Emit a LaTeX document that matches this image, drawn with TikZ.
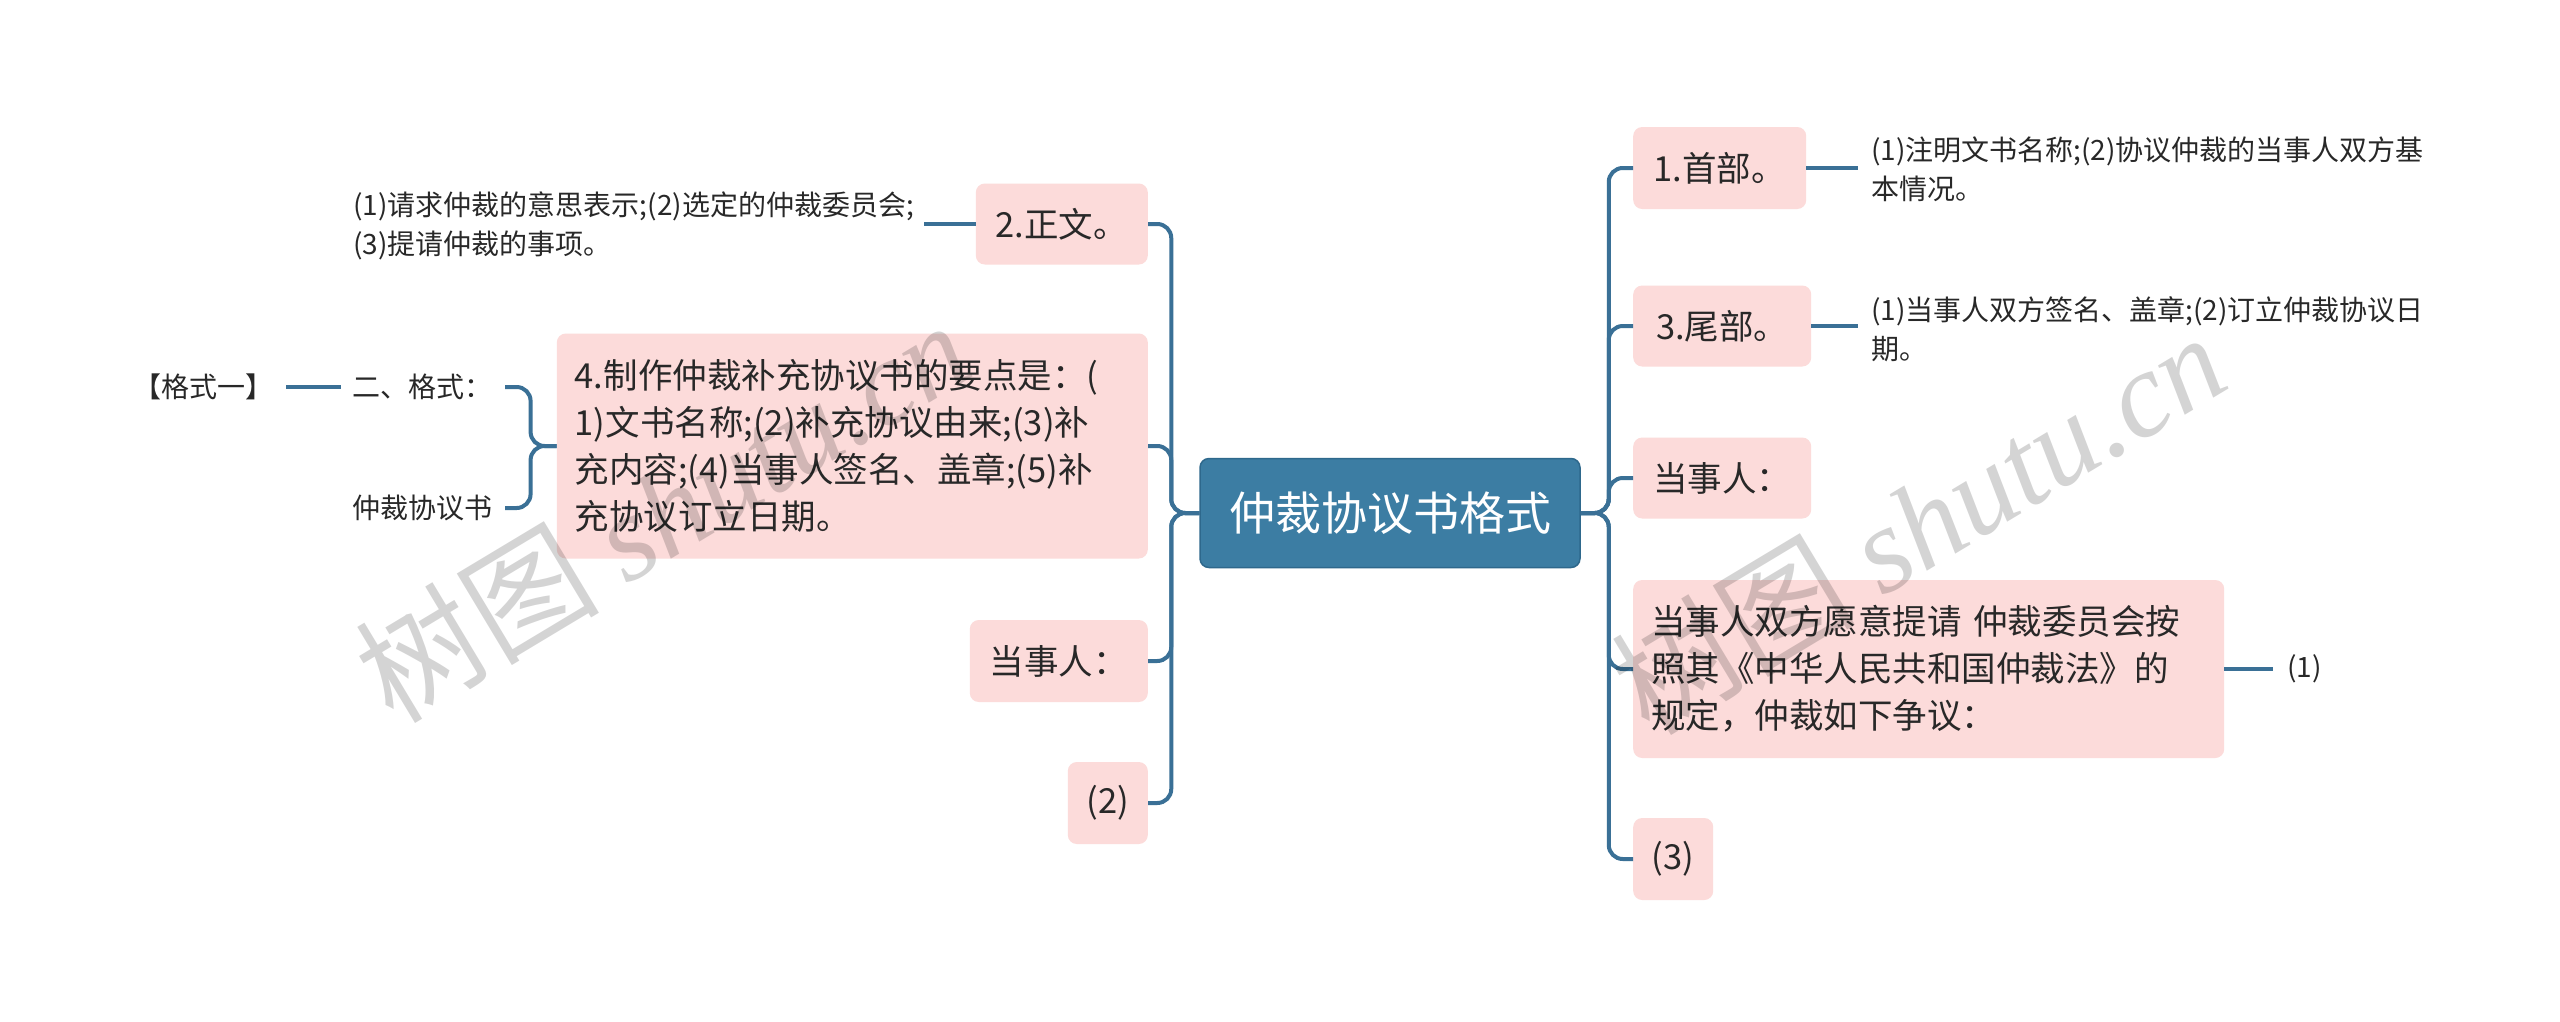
\documentclass[tikz,border=0pt]{standalone}
\usepackage{fontspec}
\setmainfont{Noto Sans CJK SC}
\newfontfamily\wmserif{Liberation Serif}
\definecolor{pinkc}{RGB}{252,219,218}
\definecolor{rootc}{RGB}{60,125,163}
\definecolor{rootb}{RGB}{46,104,140}
\definecolor{linec}{RGB}{58,112,150}
\definecolor{txt}{RGB}{40,40,40}
\tikzset{
  box/.style={fill=pinkc, rounded corners=9, text=txt, inner xsep=18, inner ysep=0,
    font=\fontsize{34.5}{47}\selectfont, align=center},
  bigbox/.style={box, align=left},
  leaf/.style={text=txt, inner xsep=12, inner ysep=0, font=\fontsize{28}{39}\selectfont, align=left},
  rootbox/.style={fill=rootc, draw=rootb, line width=1.5, rounded corners=9, text=white,
    font=\fontsize{46}{56}\selectfont, minimum width=380, minimum height=109},
  conn/.style={draw=linec, line width=4, rounded corners=14},
  wm/.style={text=black, opacity=0.17, rotate=31, font=\fontsize{122}{124}\selectfont}
}
\begin{document}
\begin{tikzpicture}[x=1pt,y=-1pt]
\useasboundingbox (0,0) rectangle (2560,1021);
\fill[white] (0,0) rectangle (2560,1021);

% root
\node[rootbox] (root) at (1390,513) {仲裁协议书格式};

% left branch
\node[box, anchor=east, minimum width=172, minimum height=81] (n2) at (1148,224) {2.正文。};
\node[bigbox, anchor=east, minimum height=225, text width=555] (n4) at (1148,446)
  {4.制作仲裁补充协议书的要点是：(\\1)文书名称;(2)补充协议由来;(3)补\\充内容;(4)当事人签名、盖章;(5)补\\充协议订立日期。};
\node[box, anchor=east, minimum width=178, minimum height=82] (nl3) at (1148,661) {当事人：};
\node[box, anchor=east, minimum width=80, minimum height=82] (nl4) at (1148,803) {(2)};

% right branch
\node[box, anchor=west, minimum width=173, minimum height=82] (r1) at (1633,168) {1.首部。};
\node[box, anchor=west, minimum width=178, minimum height=81] (r2) at (1633,326) {3.尾部。};
\node[box, anchor=west, minimum width=178, minimum height=81] (r3) at (1633,478) {当事人：};
\node[bigbox, anchor=west, minimum height=178, text width=555] (r4) at (1633,669)
  {当事人双方愿意提请~仲裁委员会按\\照其《中华人民共和国仲裁法》的\\规定，仲裁如下争议：};
\node[box, anchor=west, minimum width=80, minimum height=82] (r5) at (1633,859) {(3)};

% leaves
\node[leaf, anchor=east, inner xsep=10] (l2) at (924,226)
  {(1)请求仲裁的意思表示;(2)选定的仲裁委员会;\\(3)提请仲裁的事项。};
\node[leaf, anchor=east] (gs) at (505,387) {二、格式：};
\node[leaf, anchor=east] (gx) at (505,508) {仲裁协议书};
\node[leaf, anchor=east] (gf) at (286,387) {【格式一】};
\node[leaf, anchor=west, inner xsep=13] (lr1) at (1858,169)
  {(1)注明文书名称;(2)协议仲裁的当事人双方基\\本情况。};
\node[leaf, anchor=west, inner xsep=13] (lr2) at (1858,329)
  {(1)当事人双方签名、盖章;(2)订立仲裁协议日\\期。};
\node[leaf, anchor=west, inner xsep=14] (lr4) at (2273,669) {(1)};

% connectors
\foreach \c in {n2,n4,nl3,nl4}{
  \draw[conn] (root.west) -- ++(-28,0) |- (\c.east);
}
\foreach \c in {r1,r2,r3,r4,r5}{
  \draw[conn] (root.east) -- ++(28,0) |- (\c.west);
}
\draw[conn] (n2.west) -- (l2.east |- n2.west);
\draw[conn] (r1.east) -- (lr1.west |- r1.east);
\draw[conn] (r2.east) -- (lr2.west |- r2.east);
\draw[conn] (r4.east) -- (lr4.west);
\draw[conn] (n4.west) -- ++(-26,0) |- (gs.east);
\draw[conn] (n4.west) -- ++(-26,0) |- (gx.east);
\draw[conn] (gf.east) -- (gs.west);

% watermarks
\node[wm] (wm1) at (662,510) {树图 {\wmserif\itshape shutu.cn}};
\node[wm] (wm2) at (1918,522) {树图 {\wmserif\itshape shutu.cn}};
\end{tikzpicture}
\end{document}
